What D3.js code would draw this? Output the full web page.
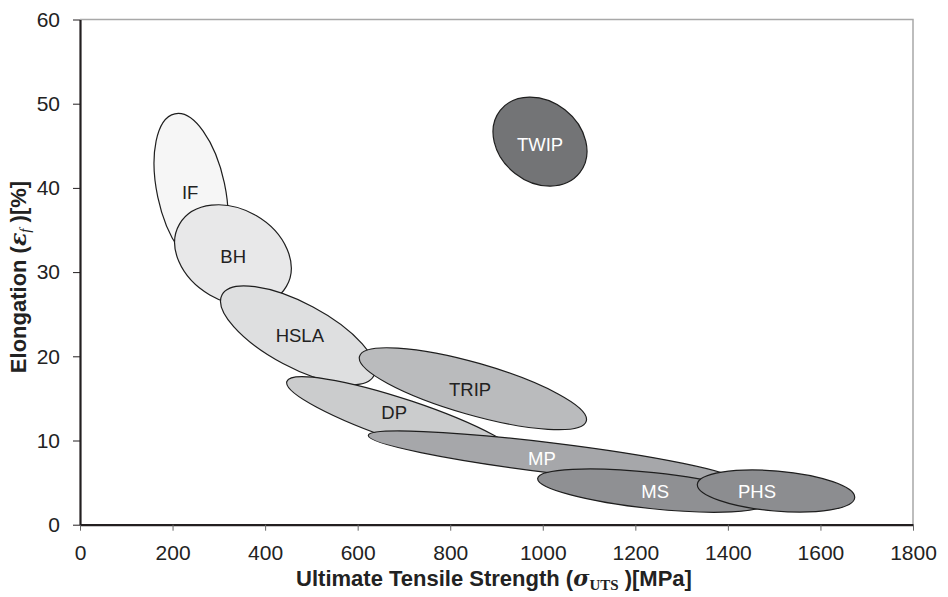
<!DOCTYPE html>
<html>
<head>
<meta charset="utf-8">
<script src="https://cdn.jsdelivr.net/npm/d3@7"></script>
<style>
  body { margin: 0; background: #fff; }
  svg { display: block; font-family: "Liberation Sans", Arial, sans-serif; }
</style>
</head>
<body>
<div id="chart"></div>
<script>
// steel grades, drawn back to front
var grades = ['IF', 'BH', 'HSLA', 'DP', 'TRIP', 'MP', 'MS', 'PHS', 'TWIP'];

// ends of each ellipse's long axis: [UTS MPa, elongation %]
var axisStart = [[205, 48.8], [215, 35.7], [307, 27.3], [447, 17.0], [604, 20.0],
                 [623, 10.6], [989, 5.5], [1334, 4.8], [908, 49.2]];
var axisEnd   = [[275, 30.7], [446, 28.3], [635, 17.7], [958, 7.6], [1094, 12.3],
                 [1417, 5.25], [1483, 2.6], [1674, 3.2], [1080, 41.8]];
// half thickness of each ellipse, in % elongation
var halfWidth = [4.04, 5.46, 3.8, 2.5, 3.09, 1.78, 2.14, 2.38, 4.8];

// where each name is written
var labelPos = [[238, 39.5], [331, 31.9], [475, 22.5], [679, 13.3], [843, 16.1],
                [998, 7.8], [1243, 3.9], [1463, 3.9], [994, 45.1]];

var fills = ['#f6f6f6', '#e8e8e9', '#dedfe0', '#cbcccd', '#babbbd',
             '#a6a7aa', '#8f9093', '#8c8d90', '#737476'];
var textFills = ['#222', '#222', '#222', '#222', '#222', '#fff', '#fff', '#fff', '#fff'];

var xTicks = [0, 200, 400, 600, 800, 1000, 1200, 1400, 1600, 1800];
var yTicks = [0, 10, 20, 30, 40, 50, 60];

var W = 948, H = 597;
var x = d3.scaleLinear().domain([0, 1800]).range([80, 913]);
var y = d3.scaleLinear().domain([0, 60]).range([524.7, 19.5]);

var svg = d3.select('#chart').append('svg')
    .attr('width', W).attr('height', H);

// grey frame top and right
svg.append('path')
    .attr('d', 'M' + x(0) + ',' + y(60) + 'H' + x(1800) + 'V' + y(0))
    .attr('fill', 'none')
    .attr('stroke', '#a8a8a8')
    .attr('stroke-width', 1.5);

var pxPerPct = y(0) - y(1);

var shapes = grades.map(function(g, i) {
  var x1 = x(axisStart[i][0]), y1 = y(axisStart[i][1]);
  var x2 = x(axisEnd[i][0]), y2 = y(axisEnd[i][1]);
  return {
    name: g,
    cx: (x1 + x2) / 2,
    cy: (y1 + y2) / 2,
    rx: Math.hypot(x2 - x1, y2 - y1) / 2,
    ry: halfWidth[i] * pxPerPct,
    angle: Math.atan2(y2 - y1, x2 - x1) * 180 / Math.PI,
    fill: fills[i]
  };
});

svg.append('g').selectAll('ellipse')
    .data(shapes)
    .enter()
    .append('ellipse')
    .attr('cx', function(d) { return d.cx; })
    .attr('cy', function(d) { return d.cy; })
    .attr('rx', function(d) { return d.rx; })
    .attr('ry', function(d) { return d.ry; })
    .attr('transform', function(d) { return 'rotate(' + d.angle + ',' + d.cx + ',' + d.cy + ')'; })
    .attr('fill', function(d) { return d.fill; })
    .attr('stroke', '#1e1e1e')
    .attr('stroke-width', 1.2);

svg.append('g').selectAll('text')
    .data(grades)
    .enter()
    .append('text')
    .attr('x', function(d, i) { return x(labelPos[i][0]); })
    .attr('y', function(d, i) { return y(labelPos[i][1]); })
    .attr('dy', '0.35em')
    .attr('text-anchor', 'middle')
    .attr('font-size', 18.5)
    .attr('fill', function(d, i) { return textFills[i]; })
    .text(function(d) { return d; });

// axes
var gx = svg.append('g')
    .attr('transform', 'translate(0,' + y(0) + ')')
    .call(d3.axisBottom(x).tickValues(xTicks).tickFormat(d3.format('d'))
        .tickSize(6).tickSizeOuter(0).tickPadding(14));
var gy = svg.append('g')
    .attr('transform', 'translate(' + x(0) + ',0)')
    .call(d3.axisLeft(y).tickValues(yTicks).tickFormat(d3.format('d'))
        .tickSize(7).tickSizeOuter(0).tickPadding(13));

[gx, gy].forEach(function(g) {
  g.select('.domain').attr('stroke', '#231f20').attr('stroke-width', 2.2);
  g.selectAll('.tick line').attr('stroke', '#666').attr('stroke-width', 1);
  g.selectAll('.tick text')
      .attr('font-size', 21)
      .attr('fill', '#222')
      .attr('font-family', '"Liberation Sans", Arial, sans-serif');
});
gy.selectAll('.tick line').attr('stroke', '#231f20');

// axis titles
var xt = svg.append('text')
    .attr('x', 494).attr('y', 586)
    .attr('text-anchor', 'middle')
    .attr('font-size', 22)
    .attr('font-weight', 'bold')
    .attr('fill', '#222');
xt.append('tspan').text('Ultimate Tensile Strength (');
xt.append('tspan').attr('font-style', 'italic').attr('font-family', '"DejaVu Serif", serif').text('σ');
xt.append('tspan').attr('font-family', '"Liberation Serif", serif').attr('font-size', 15).attr('dy', 4).text('UTS');
xt.append('tspan').attr('dy', -4).text(' )[MPa]');

var yt = svg.append('text')
    .attr('transform', 'translate(26,277) rotate(-90)')
    .attr('text-anchor', 'middle')
    .attr('font-size', 22)
    .attr('font-weight', 'bold')
    .attr('fill', '#222');
yt.append('tspan').text('Elongation (');
yt.append('tspan').attr('font-style', 'italic').attr('font-family', '"DejaVu Serif", serif').text('ε');
yt.append('tspan').attr('font-family', '"Liberation Serif", serif').attr('font-style', 'italic').attr('font-weight', 'normal').attr('font-size', 15).attr('dy', 4).text('f');
yt.append('tspan').attr('dy', -4).text(' )[%]');
</script>
</body>
</html>
